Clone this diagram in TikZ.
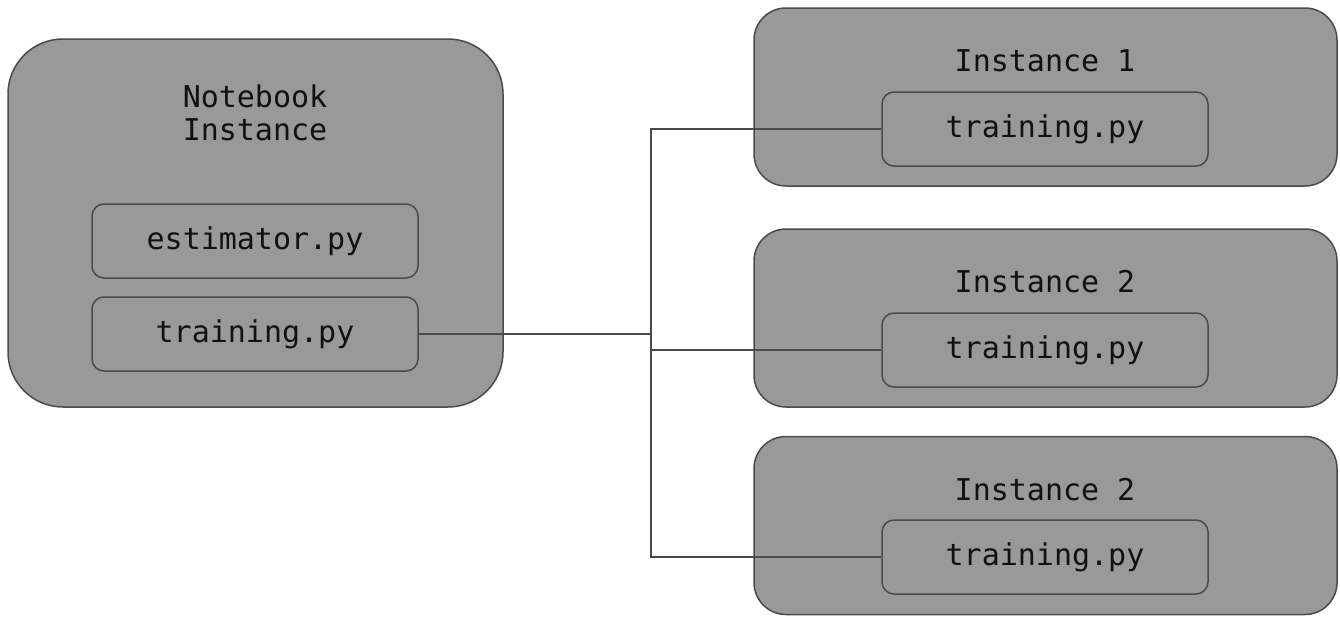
\documentclass[tikz,border=0pt]{standalone}
\usepackage{fontspec}
\newfontfamily\codefont{DejaVu Sans Mono}
\definecolor{boxfill}{HTML}{999999}
\definecolor{boxline}{HTML}{4A4A4A}
\definecolor{txt}{HTML}{111111}
\begin{document}
\begin{tikzpicture}[x=1pt,y=-1pt,
  bigbox/.style={draw=boxline,fill=boxfill,line width=1.5pt,inner sep=0pt},
  filebox/.style={draw=boxline,fill=boxfill,line width=1.5pt,rounded corners=12pt,
    minimum width=326pt,minimum height=74pt,inner sep=0pt,
    font=\codefont\fontsize{30}{36}\selectfont,text=txt},
  title/.style={font=\codefont\fontsize{30}{33}\selectfont,text=txt,align=center,inner sep=0pt},
  conn/.style={draw=boxline,line width=1.5pt}]
\useasboundingbox (0,0) rectangle (1340,616);
% big boxes
\node[bigbox,rounded corners=55pt,minimum width=495pt,minimum height=368pt] (nb) at (255.5,223) {};
\node[bigbox,rounded corners=32pt,minimum width=583pt,minimum height=178pt] (i1) at (1045.5,97) {};
\node[bigbox,rounded corners=32pt,minimum width=583pt,minimum height=178pt] (i2) at (1045.5,318) {};
\node[bigbox,rounded corners=32pt,minimum width=583pt,minimum height=178pt] (i3) at (1045.5,525.5) {};
% titles
\node[title] (nbt) at (255,113) {Notebook\\Instance};
\node[title] (i1t) at (1045,61) {Instance 1};
\node[title] (i2t) at (1045,282) {Instance 2};
\node[title] (i3t) at (1045,490) {Instance 2};
% connectors
\coordinate (bus) at (651,334);
\node[filebox] (est) at (255,241) {estimator.py};
\node[filebox] (nbtr) at (255,334) {training.py};
\node[filebox] (t1) at (1045,129) {training.py};
\node[filebox] (t2) at (1045,350) {training.py};
\node[filebox] (t3) at (1045,557) {training.py};
\draw[conn] (nbtr.east) -- (bus);
\draw[conn] (bus) |- (t1.west);
\draw[conn] (bus) |- (t2.west);
\draw[conn] (bus) |- (t3.west);
\end{tikzpicture}
\end{document}
